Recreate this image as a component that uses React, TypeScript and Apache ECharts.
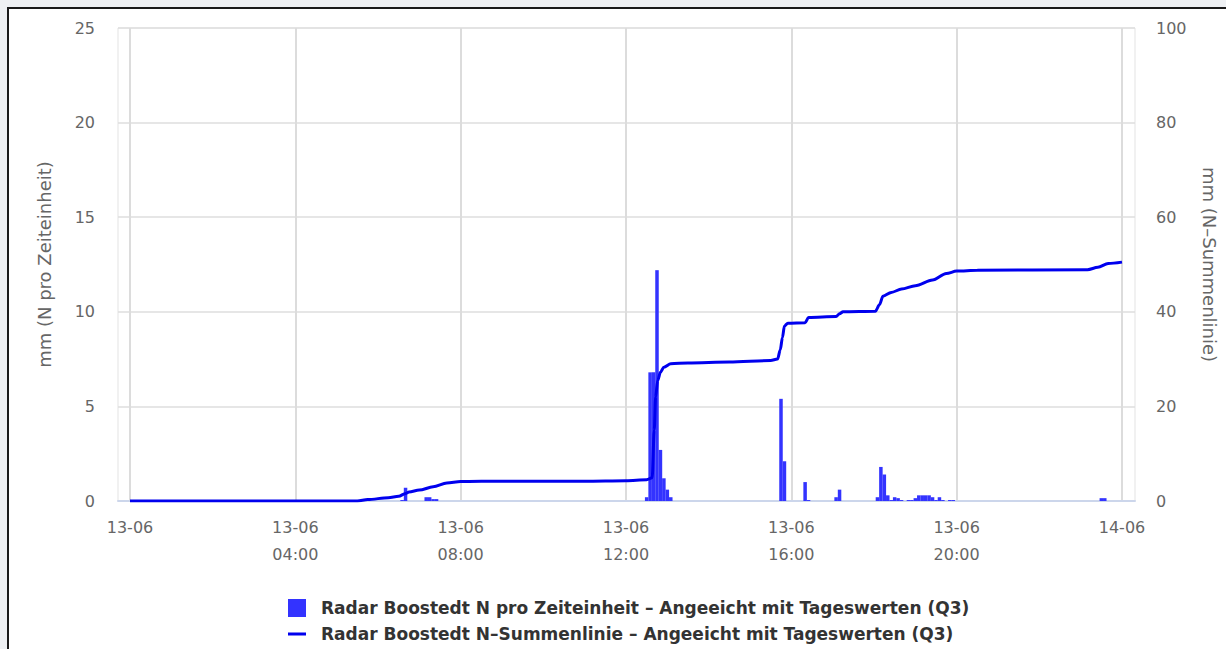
import React, { useEffect, useRef } from "react";
import * as echarts from "echarts";

const barTimes = [
  "06:35", "06:40", "07:10", "07:15", "07:20", "07:25",
  "12:30", "12:35", "12:40", "12:45", "12:50", "12:55", "13:00", "13:05",
  "15:45", "15:50", "16:20", "16:25", "17:05", "17:10",
  "18:05", "18:10", "18:15", "18:20", "18:25", "18:30", "18:35", "18:40",
  "18:50", "18:55", "19:00", "19:05", "19:10", "19:15", "19:20", "19:25",
  "19:30", "19:35", "19:40", "19:50", "19:55", "23:30", "23:35",
];
const barValues = [
  0.05, 0.7, 0.2, 0.2, 0.1, 0.1,
  0.2, 6.8, 6.8, 12.2, 2.7, 1.2, 0.6, 0.2,
  5.4, 2.1, 1.0, 0.05, 0.2, 0.6,
  0.2, 1.8, 1.4, 0.3, 0.05, 0.2, 0.15, 0.05,
  0.05, 0.05, 0.15, 0.3, 0.3, 0.3, 0.3, 0.2,
  0.05, 0.2, 0.05, 0.05, 0.05, 0.15, 0.15,
];

const lineTimes = [
  "00:00", "05:30", "05:45", "06:15", "06:30", "06:40", "06:45", "07:00",
  "07:20", "07:40", "08:00", "09:00", "11:00", "12:00", "12:30", "12:38",
  "12:41", "12:43", "12:46", "12:50", "12:55", "13:05", "13:30", "14:30",
  "15:30", "15:40", "15:44", "15:47", "15:50", "15:55", "16:20", "16:25",
  "17:05", "17:10", "17:15", "18:02", "18:08", "18:13", "18:25", "18:40",
  "19:00", "19:25", "19:45", "20:00", "20:30", "23:10", "23:25", "23:40", "24:00",
];
const lineValues = [
  0, 0, 0.3, 0.7, 1.0, 1.6, 1.9, 2.3,
  3.0, 3.8, 4.1, 4.2, 4.2, 4.3, 4.5, 4.9,
  15, 22, 25.5, 27.2, 28.3, 29.0, 29.2, 29.4,
  29.7, 30.0, 32, 34.5, 37.0, 37.6, 37.7, 38.8,
  39.0, 39.6, 40.0, 40.1, 41.5, 43.3, 44.1, 44.8,
  45.5, 46.7, 48.1, 48.6, 48.8, 48.9, 49.4, 50.2, 50.5,
];

const xTickHours = [0, 4, 8, 12, 16, 20, 24];
const xTickLabels = [
  "13-06", "13-06\n04:00", "13-06\n08:00", "13-06\n12:00",
  "13-06\n16:00", "13-06\n20:00", "14-06",
];

const barName = "Radar Boostedt N pro Zeiteinheit \u2013 Angeeicht mit Tageswerten (Q3)";
const lineName = "Radar Boostedt N\u2013Summenlinie \u2013 Angeeicht mit Tageswerten (Q3)";

const toHours = (s: string) => {
  const [h, m] = s.split(":").map(Number);
  return h + m / 60;
};

export default function App() {
  const ref = useRef<HTMLDivElement>(null);
  useEffect(() => {
    if (!ref.current) return;
    const chart = echarts.init(ref.current, undefined, { renderer: "svg" });
    const font = "DejaVu Sans";
    const bars = barTimes.map((t, i) => [toHours(t), barValues[i]]);
    const line = lineTimes.map((t, i) => [toHours(t), lineValues[i]]);
    chart.setOption({
      animation: false,
      textStyle: { fontFamily: font },
      grid: [
        { left: 118, top: 28, width: 1017, height: 473, show: true, borderColor: "#e3e3e3", borderWidth: 1, backgroundColor: "transparent" },
        { left: 130, top: 28, width: 993, height: 473 },
      ],
      xAxis: [
        {
          gridIndex: 0, type: "value", min: 0, max: 1,
          axisLine: { show: true, lineStyle: { color: "#ccd6eb", width: 2 } },
          axisTick: { show: false }, axisLabel: { show: false }, splitLine: { show: false },
        },
        {
          gridIndex: 1, type: "value", min: 0, max: 24, interval: 4,
          axisLine: { show: false }, axisTick: { show: false },
          axisLabel: {
            color: "#666", fontSize: 16, fontFamily: font, margin: 13, lineHeight: 27,
            formatter: (v: number) => {
              const i = xTickHours.indexOf(v);
              return i >= 0 ? xTickLabels[i] : "";
            },
          },
          splitLine: { show: true, lineStyle: { color: "#dcdcdc", width: 2 } },
        },
      ],
      yAxis: [
        {
          gridIndex: 0, type: "value", min: 0, max: 25, interval: 5,
          axisLabel: { show: false }, axisLine: { show: false }, axisTick: { show: false },
          splitLine: { show: true, lineStyle: { color: "#dedede", width: 1.5 } },
        },
        {
          gridIndex: 1, type: "value", min: 0, max: 25, interval: 5, position: "left",
          name: "mm (N pro Zeiteinheit)", nameLocation: "middle", nameGap: 77,
          nameTextStyle: { color: "#666", fontSize: 18, fontFamily: font },
          axisLabel: { color: "#666", fontSize: 16, fontFamily: font, margin: 35 },
          axisLine: { show: false }, axisTick: { show: false }, splitLine: { show: false },
        },
        {
          gridIndex: 1, type: "value", min: 0, max: 100, interval: 20, position: "right",
          name: "mm (N\u2013Summenlinie)", nameLocation: "middle", nameGap: 78, nameRotate: -90,
          nameTextStyle: { color: "#666", fontSize: 18, fontFamily: font },
          axisLabel: { color: "#666", fontSize: 16, fontFamily: font, margin: 34 },
          axisLine: { show: false }, axisTick: { show: false }, splitLine: { show: false },
        },
      ],
      legend: {
        orient: "vertical", left: 283, top: 594, itemWidth: 18, itemHeight: 18, itemGap: 8,
        textStyle: { color: "#333", fontSize: 17, fontWeight: "bold", fontFamily: "DejaVu Sans", padding: [0, 0, 0, 10] },
        data: [
          { name: barName, icon: "rect" },
          { name: lineName, icon: "path://M0,0h0.01v0.01h-0.01z M0,7.5h18v3h-18z M17.99,17.99h0.01v0.01h-0.01z" },
        ],
      },
      series: [
        {
          name: barName, type: "bar", xAxisIndex: 1, yAxisIndex: 1, data: bars,
          barWidth: 3.5, itemStyle: { color: "#3333ff" },
        },
        {
          name: lineName, type: "line", xAxisIndex: 1, yAxisIndex: 2, data: line,
          showSymbol: false, symbol: "none", smooth: 0.3, smoothMonotone: "x",
          lineStyle: { color: "#0000ee", width: 3 }, itemStyle: { color: "#0000ee" },
        },
      ],
    });
    return () => chart.dispose();
  }, []);
  return (
    <div style={{ position: "fixed", left: 0, top: 0, width: 1226, height: 649, background: "#eef0f3" }}>
      <div style={{ position: "absolute", left: 7, top: 7, width: 1219, height: 642, background: "#fff", borderLeft: "2px solid #1a1a1a", borderTop: "2px solid #1a1a1a", boxSizing: "border-box" }} />
      <div ref={ref} style={{ position: "absolute", left: 0, top: 0, width: 1226, height: 649 }} />
    </div>
  );
}
